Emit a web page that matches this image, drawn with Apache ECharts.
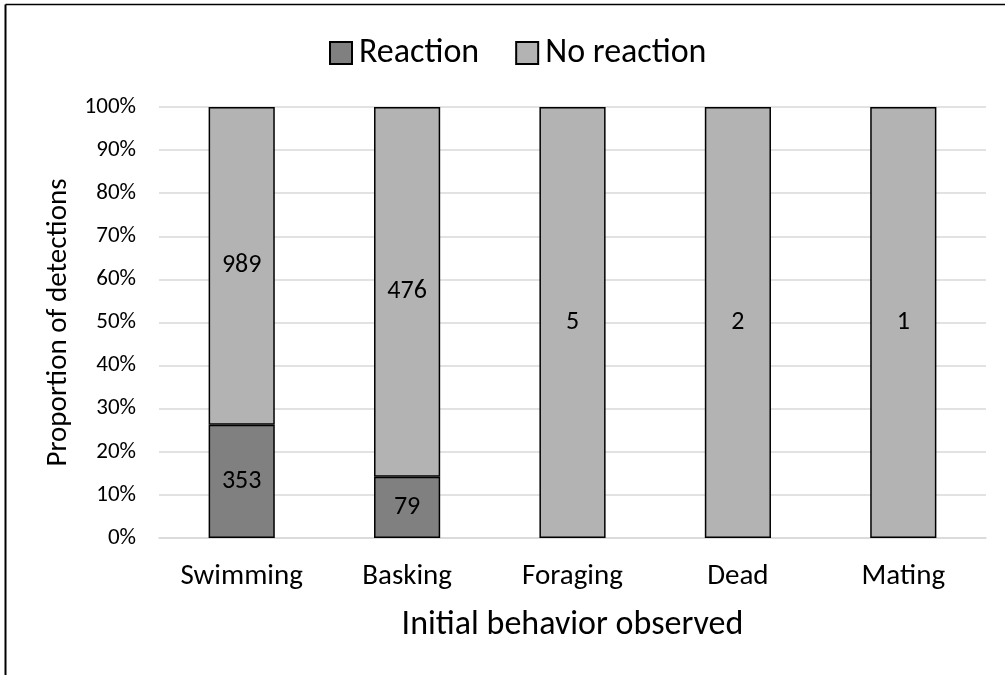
<!DOCTYPE html>
<html>
<head>
<meta charset="utf-8">
<script src="https://cdn.jsdelivr.net/npm/echarts@6/dist/echarts.min.js"></script>
<style>
  html, body { margin: 0; padding: 0; background: #fff; }
  #chart { width: 1005px; height: 675px; }
</style>
</head>
<body>
<div id="chart"></div>
<script>
// Detections by initial behavior, split by whether the animal reacted
const categories = ['Swimming', 'Basking', 'Foraging', 'Dead', 'Mating'];
const reactionCounts = [353, 79, 0, 0, 0];
const noReactionCounts = [989, 476, 5, 2, 1];
const yTicks = [0, 10, 20, 30, 40, 50, 60, 70, 80, 90, 100];

const totals = categories.map((_, i) => reactionCounts[i] + noReactionCounts[i]);
// Each segment is its share of the bar's total; the count itself is shown as the label
const pct = (counts) => counts.map((c, i) => ({
  value: c / totals[i] * 100,
  count: c,
  itemStyle: c > 0 ? undefined : { borderWidth: 0 }
}));

const FONT = 'Carlito, Calibri, "Noto Sans", sans-serif';

const chart = echarts.init(document.getElementById('chart'), null, { renderer: 'canvas' });

const labelCfg = {
  show: true,
  position: 'inside',
  color: '#000',
  fontFamily: FONT,
  fontSize: 26,
  formatter: (p) => (p.data.count > 0 ? String(p.data.count) : '')
};

chart.setOption({
  backgroundColor: '#fff',
  animation: false,
  textStyle: { fontFamily: FONT },
  legend: {
    top: 31,
    left: 324,
    icon: 'rect',
    itemWidth: 22,
    itemHeight: 22,
    itemGap: 36,
    textStyle: { fontSize: 34, color: '#000', fontFamily: FONT, padding: [2, 0, 0, 2] },
    data: ['Reaction', 'No reaction']
  },
  grid: { left: 159, right: 19, top: 107, bottom: 137 },
  xAxis: {
    type: 'category',
    data: categories,
    name: 'Initial behavior observed',
    nameLocation: 'middle',
    nameGap: 70,
    nameTextStyle: { fontSize: 34, color: '#000', fontFamily: FONT },
    axisLine: { show: true, lineStyle: { color: '#d9d9d9', width: 1.5 } },
    axisTick: { show: false },
    axisLabel: { fontSize: 29, color: '#000', margin: 24, fontFamily: FONT }
  },
  yAxis: {
    type: 'value',
    min: yTicks[0],
    max: yTicks[yTicks.length - 1],
    interval: 10,
    name: 'Proportion of detections',
    nameLocation: 'middle',
    nameGap: 82,
    nameTextStyle: { fontSize: 29, color: '#000', fontFamily: FONT },
    axisLine: { show: false },
    axisTick: { show: false },
    axisLabel: { formatter: '{value}%', fontSize: 23, color: '#000', margin: 23, fontFamily: FONT },
    splitLine: { lineStyle: { color: '#d9d9d9', width: 1.5 } }
  },
  series: [
    {
      name: 'Reaction',
      type: 'bar',
      stack: 'total',
      barWidth: '40%',
      data: pct(reactionCounts),
      itemStyle: { color: '#808080', borderColor: '#000', borderWidth: 1.5 },
      label: labelCfg
    },
    {
      name: 'No reaction',
      type: 'bar',
      stack: 'total',
      barWidth: '40%',
      data: pct(noReactionCounts),
      itemStyle: { color: '#b3b3b3', borderColor: '#000', borderWidth: 1.5 },
      label: labelCfg
    }
  ],
  graphic: [
    { type: 'line', shape: { x1: 5.5, y1: 4.5, x2: 1005, y2: 4.5 }, style: { stroke: '#000', lineWidth: 1.5 } },
    { type: 'line', shape: { x1: 5.5, y1: 4.5, x2: 5.5, y2: 675 }, style: { stroke: '#000', lineWidth: 2 } }
  ]
});
</script>
</body>
</html>
